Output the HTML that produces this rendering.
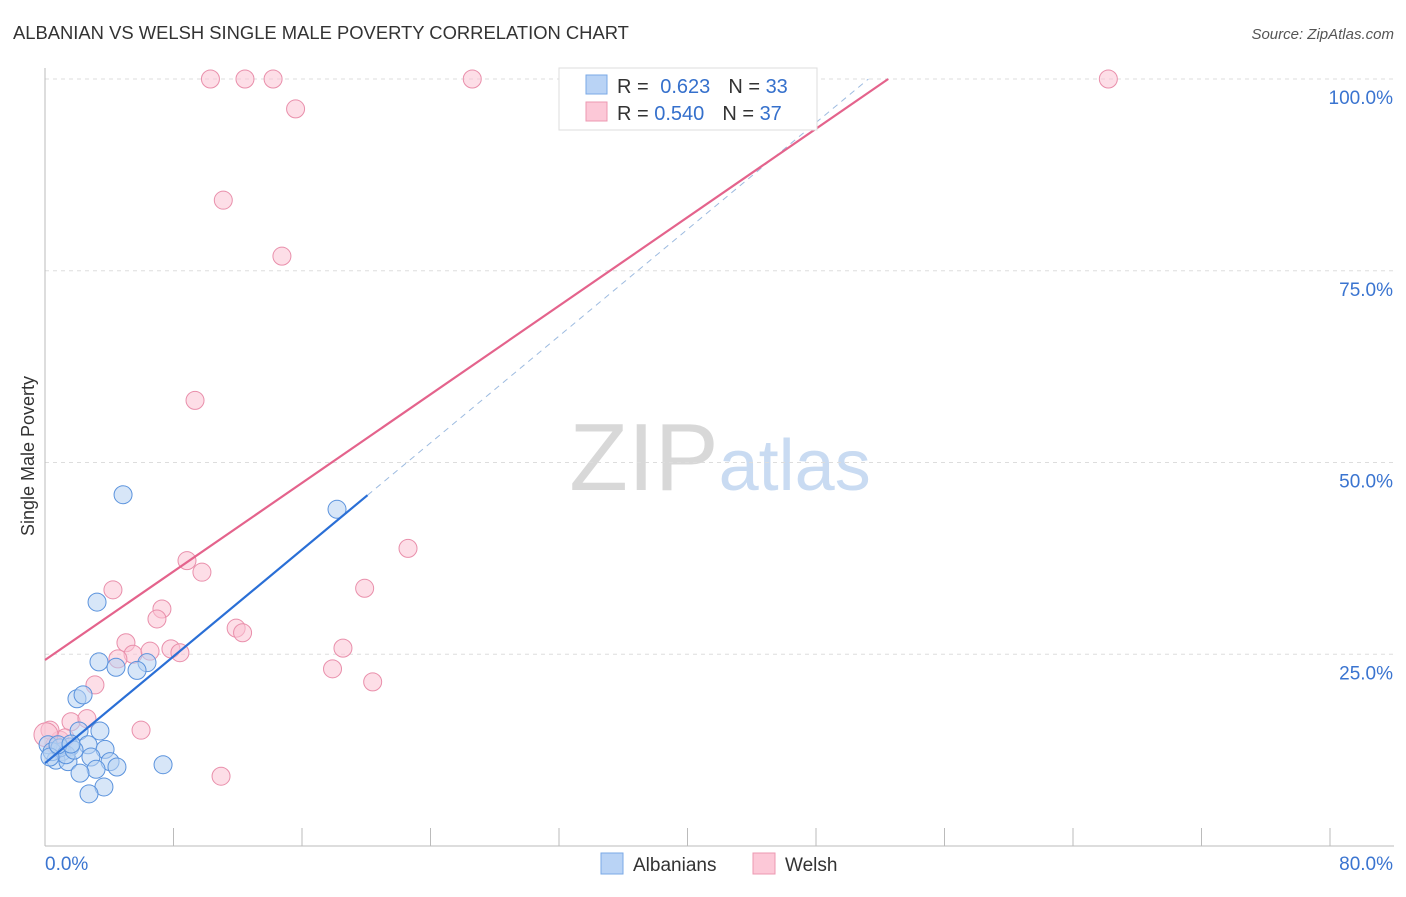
<!DOCTYPE html>
<html><head><meta charset="utf-8"><style>
body{margin:0;background:#fff;font-family:"Liberation Sans",sans-serif;}
svg text{font-family:"Liberation Sans",sans-serif;}
</style></head><body>
<svg id="chart" width="1406" height="892" xmlns="http://www.w3.org/2000/svg">
<text x="13" y="39" font-size="18.4" fill="#333">ALBANIAN VS WELSH SINGLE MALE POVERTY CORRELATION CHART</text>
<text x="1394" y="39" font-size="15" fill="#555" text-anchor="end" font-style="italic">Source: ZipAtlas.com</text>
<text x="720" y="490" font-size="96" fill="#ddd" text-anchor="middle" font-family="Liberation Serif"><tspan fill="#d8d8d8">ZIP</tspan><tspan fill="#c9dbf2" font-family="Liberation Sans" font-size="72">atlas</tspan></text>
<text transform="translate(34,456) rotate(-90)" font-size="18" fill="#333" text-anchor="middle">Single Male Poverty</text>
<g id="grid"></g><g id="axes"></g><g id="pts"></g><g id="lines"></g>
<g>
<rect x="559" y="68" width="258" height="62" fill="#fff" stroke="#ddd"/>
<rect x="586" y="75" width="21" height="19" fill="#b9d3f5" stroke="#7aa8e6"/>
<rect x="586" y="102" width="21" height="19" fill="#fcc8d7" stroke="#ec98b2"/>
<text x="617" y="93" font-size="20" fill="#333">R = <tspan fill="#3570cc" dx="6">0.623</tspan><tspan fill="#333" dx="18">N = </tspan><tspan fill="#3570cc">33</tspan></text>
<text x="617" y="120" font-size="20" fill="#333">R = <tspan fill="#3570cc">0.540</tspan><tspan fill="#333" dx="18">N = </tspan><tspan fill="#3570cc">37</tspan></text>
</g>
<g>
<rect x="601" y="853" width="22" height="21" fill="#b9d3f5" stroke="#7aa8e6"/>
<text x="633" y="871" font-size="19" fill="#333">Albanians</text>
<rect x="753" y="853" width="22" height="21" fill="#fcc8d7" stroke="#ec98b2"/>
<text x="785" y="871" font-size="19" fill="#333">Welsh</text>
</g>
</svg>
<script>
const xTicks=[0,8,16,24,32,40,48,56,64,72,80];
const yTicks=[25,50,75,100];
const yTickLabels=["25.0%","50.0%","75.0%","100.0%"];
const blueX=[4.86,18.18,3.24,3.36,4.42,6.35,5.73,1.99,2.37,2.12,3.42,2.68,3.74,1.56,1.06,0.68,1.43,2.86,4.05,4.48,3.18,2.18,7.35,3.67,2.74,0.19,0.44,0.93,1.31,1.81,0.31,0.81,1.62];
const blueY=[45.8,43.9,31.8,24.0,23.3,23.9,22.9,19.2,19.7,15.0,15.0,13.2,12.6,12.9,12.3,11.2,11.0,11.6,11.0,10.3,10.0,9.5,10.6,7.7,6.8,13.2,12.3,12.8,11.9,12.5,11.6,13.2,13.3];
const pinkX=[10.3,12.45,14.2,26.6,66.2,15.6,11.1,14.75,9.34,22.6,8.84,9.77,19.9,4.23,7.28,6.97,11.9,12.3,5.04,18.55,5.48,6.54,4.54,7.84,8.4,17.9,20.4,3.11,5.98,1.62,2.61,10.96,0.93,0.62,1.25,0.31,0.06];
const pinkY=[100,100,100,100,100,96.1,84.2,76.9,58.1,38.8,37.2,35.7,33.6,33.4,30.9,29.6,28.4,27.8,26.5,25.8,25.0,25.4,24.4,25.7,25.2,23.1,21.4,21.0,15.1,16.2,16.6,9.1,13.8,13.2,14.1,15.1,14.5];
const blueFit=[10.8,1.74];
const pinkFit=[24.25,1.443];
const X=v=>45+v/80*1285, Y=v=>846-v/100*767;
const NS="http://www.w3.org/2000/svg";
function mk(parent,tag,at){const e=document.createElementNS(NS,tag);for(const k in at)e.setAttribute(k,at[k]);document.getElementById(parent).appendChild(e);return e;}
yTicks.forEach((t,i)=>{
 const g=mk('grid','line',{x1:45,x2:1394,y1:Y(t),y2:Y(t),stroke:'#ddd','stroke-dasharray':'4,4'});
 
 
 const l=mk('axes','text',{x:1393,y:Y(t)+25,'font-size':19,fill:'#3a74d0','text-anchor':'end'});
 l.textContent=yTickLabels[i];
 
 
});
let ax=mk('axes','line',{x1:45,x2:45,y1:68,y2:846,stroke:'#bbb'});


ax=mk('axes','line',{x1:45,x2:1394,y1:846,y2:846,stroke:'#bbb'});


xTicks.forEach(t=>{const e=mk('axes','line',{x1:X(t),x2:X(t),y1:828,y2:846,stroke:'#bbb'});
 
 });
let tl=mk('axes','text',{x:45,y:870,'font-size':19,fill:'#3a74d0'});tl.textContent=xTicks[0].toFixed(1)+'%';


tl=mk('axes','text',{x:1393,y:870,'font-size':19,fill:'#3a74d0','text-anchor':'end'});tl.textContent=xTicks[xTicks.length-1].toFixed(1)+'%';


function dots(xs,ys,fill,stroke,name){xs.forEach((x,i)=>{
 const r=(name==='welsh-point'&&i===xs.length-1)?12:9;
 const c=mk('pts','circle',{cx:X(x),cy:Y(ys[i]),r:r,fill:fill,'fill-opacity':0.55,stroke:stroke,'stroke-width':1});
 
 });}
dots(pinkX,pinkY,'#fbc3d3','#e98fab','welsh-point');
dots(blueX,blueY,'#b6d1f3','#5b93dd','albanian-point');
function fit(f,x0,x1,color,dash,name){const e=mk('lines','line',{x1:X(x0),y1:Y(f[0]+f[1]*x0),x2:X(x1),y2:Y(f[0]+f[1]*x1),stroke:color,'stroke-width':dash?1:2.2});
 if(dash)e.setAttribute('stroke-dasharray','6,5');
 
 }
const bmax=Math.max(...blueX);
fit(blueFit,0,bmax+1.9,'#2a6fd6',false,'albanian-trendline');
fit(blueFit,bmax+1.9,(100-blueFit[0])/blueFit[1],'#9dbbe0',true,'albanian-trendline-extension');
fit(pinkFit,0,(100-pinkFit[0])/pinkFit[1],'#e4638c',false,'welsh-trendline');
</script>
</body></html>
